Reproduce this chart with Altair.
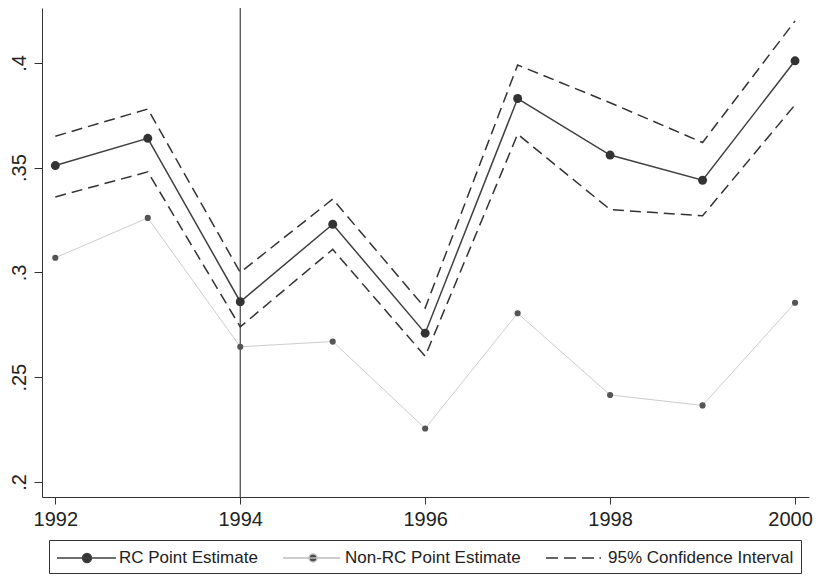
import altair as alt
import pandas as pd

years = [1992, 1993, 1994, 1995, 1996, 1997, 1998, 1999, 2000]
rc_est = [0.351, 0.364, 0.286, 0.323, 0.271, 0.383, 0.356, 0.344, 0.401]
ci_upper = [0.365, 0.378, 0.300, 0.335, 0.283, 0.399, 0.381, 0.362, 0.420]
ci_lower = [0.336, 0.348, 0.274, 0.311, 0.260, 0.366, 0.330, 0.327, 0.380]
nonrc_est = [0.307, 0.326, 0.2645, 0.267, 0.2255, 0.2805, 0.2415, 0.2365, 0.2855]
x_ticks = [1992, 1994, 1996, 1998, 2000]
y_ticks = [0.2, 0.25, 0.3, 0.35, 0.4]
series_names = ["RC Point Estimate", "Non-RC Point Estimate", "95% Confidence Interval"]
event_year = [1994]

FONT = "Liberation Sans"

rc_df = pd.DataFrame({"year": years, "value": rc_est})
nonrc_df = pd.DataFrame({"year": years, "value": nonrc_est})
ci_df = pd.concat([
    pd.DataFrame({"year": years, "value": ci_upper, "bound": "upper"}),
    pd.DataFrame({"year": years, "value": ci_lower, "bound": "lower"}),
])
legend_df = pd.DataFrame({"series": series_names, "year": [1992] * 3, "value": [0.3] * 3})
event_df = pd.DataFrame({"year": event_year})

xs = alt.Scale(domain=[1991.856, 2000.151], nice=False, zero=False)
ys = alt.Scale(domain=[0.1928, 0.4262], nice=False, zero=False)

x_axis = alt.Axis(values=x_ticks, format="d", title=None, labelFontSize=20, labelFont=FONT,
                  labelColor="#222", tickSize=7, labelPadding=5, domainColor="#333",
                  tickColor="#333", grid=False, labelFlush=False,
                  labelOffset={"condition": {"test": "datum.value == 2000", "value": -5},
                               "value": 0})
y_axis = alt.Axis(values=y_ticks, title=None, labelFontSize=20, labelFont=FONT,
                  labelColor="#222", tickSize=8, labelPadding=9, labelAngle=270,
                  labelAlign="center", labelBaseline="alphabetic",
                  labelExpr="substring(toString(datum.value), 1)",
                  domainColor="#333", tickColor="#333", grid=False)

X = alt.X("year:Q", scale=xs, axis=x_axis)
Y = alt.Y("value:Q", scale=ys, axis=y_axis)

event = alt.Chart(event_df).mark_rule(color="#444", strokeWidth=1.2).encode(
    x=alt.X("year:Q", scale=xs)
)

ci = alt.Chart(ci_df).mark_line(color="#333", strokeWidth=1.5, strokeDash=[11, 6]).encode(
    x=X, y=Y, detail="bound:N"
)

nonrc_line = alt.Chart(nonrc_df).mark_line(color="#cdcdcd", strokeWidth=1).encode(x=X, y=Y)
nonrc_pts = alt.Chart(nonrc_df).mark_circle(color="#555", opacity=1, size=38).encode(x=X, y=Y)

rc_line = alt.Chart(rc_df).mark_line(color="#404040", strokeWidth=1.5).encode(x=X, y=Y)
rc_pts = alt.Chart(rc_df).mark_circle(color="#333", opacity=1, size=80).encode(x=X, y=Y)

# legend symbols (unit = 10px): line with dot, light line with dot, dashed line
sym_rc = "M-1,0H4.9 M2.45,0 A0.45,0.45 0 1,1 1.55,0 A0.45,0.45 0 1,1 2.45,0 Z"
sym_nonrc = "M-1,0H4.7 M2.4,0 A0.4,0.4 0 1,1 1.6,0 A0.4,0.4 0 1,1 2.4,0 Z"
sym_ci = "M-1,0H0.2 M0.8,0H2.0 M2.6,0H3.8 M4.35,0H4.5"

legend_layer = alt.Chart(legend_df).mark_point(opacity=1).encode(
    x=alt.X("year:Q", scale=xs),
    y=alt.Y("value:Q", scale=ys),
    shape=alt.Shape("series:N",
                    scale=alt.Scale(domain=series_names, range=[sym_rc, sym_nonrc, sym_ci]),
                    legend=alt.Legend(title=None, orient="none", legendX=7, legendY=532,
                                      direction="horizontal", columns=3, columnPadding=22,
                                      symbolSize=400, symbolStrokeWidth=1.4, labelOffset=41,
                                      labelFontSize=17, labelFont=FONT, labelColor="#222",
                                      strokeColor="#333", padding=7, labelLimit=400,
                                      symbolOpacity=1)),
    fill=alt.Fill("series:N",
                  scale=alt.Scale(domain=series_names, range=["#333", "#4a4a4a", "transparent"]),
                  legend=alt.Legend(title=None, orient="none", legendX=7, legendY=532,
                                    direction="horizontal", columns=3)),
    stroke=alt.Stroke("series:N",
                      scale=alt.Scale(domain=series_names, range=["#404040", "#bdbdbd", "#333"]),
                      legend=alt.Legend(title=None, orient="none", legendX=7, legendY=532,
                                        direction="horizontal", columns=3)),
).transform_filter(alt.datum.year < 0)

chart = alt.layer(
    event, ci, nonrc_line, nonrc_pts, rc_line, rc_pts, legend_layer
).properties(
    width=767, height=489,
    autosize=alt.AutoSizeParams(type="none"),
    padding={"left": 34, "top": 0, "right": 5, "bottom": 77},
    background="white",
).configure_view(strokeWidth=0)

chart.save("out.html", embed_options={"renderer": "svg", "actions": False})
